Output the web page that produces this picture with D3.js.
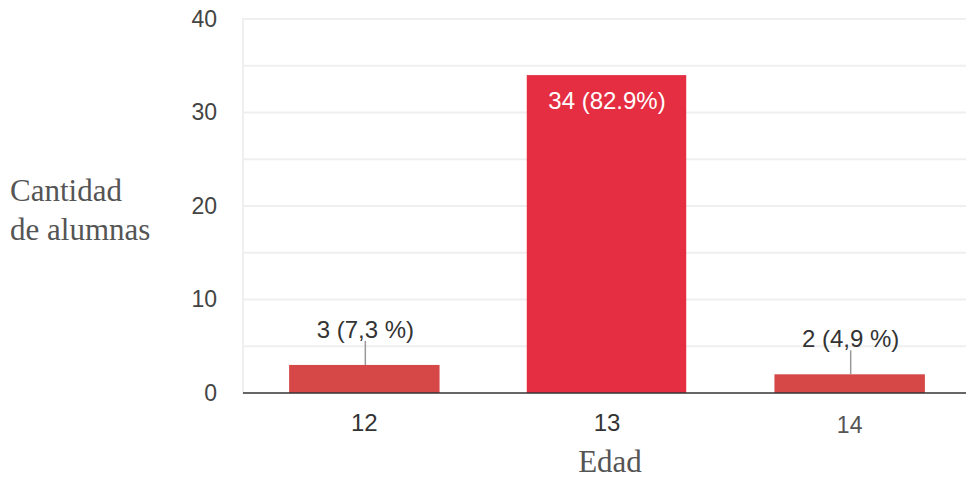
<!DOCTYPE html>
<html><head><meta charset="utf-8">
<script src="https://cdn.jsdelivr.net/npm/d3@7"></script>
<style>html,body{margin:0;padding:0;background:#fff;}</style>
</head><body>
<svg id="c" width="966" height="479"></svg>
<script>
const categories = ["12", "13", "14"];
const counts = [3, 34, 2];
const labels = ["3 (7,3 %)", "34 (82.9%)", "2 (4,9 %)"];
const yTicks = [0, 10, 20, 30, 40];
const yMinor = [5, 15, 25, 35];
const barColors = ["#d64848", "#e52e42", "#d64848"];

(function () {
const svg = d3.select("#c");
const mLeft = 243, mRight = 971, mTop = 19, mBottom = 393;
const sans = "Arial, 'Liberation Sans', sans-serif";
const serif = "'Liberation Serif', 'Times New Roman', serif";

const x = d3.scaleBand().domain(categories).range([mLeft, mRight]).paddingInner(0.38).paddingOuter(0.19);
const y = d3.scaleLinear().domain([0, 40]).range([mBottom, mTop]);

// gridlines
svg.append("g").selectAll("line").data(yTicks.concat(yMinor).filter(d => d > 0)).join("line")
  .attr("x1", mLeft).attr("x2", 966).attr("y1", d => y(d)).attr("y2", d => y(d))
  .attr("stroke", "#efefef").attr("stroke-width", 2);
svg.append("line").attr("x1", mLeft).attr("x2", mLeft).attr("y1", mTop - 1).attr("y2", mBottom)
  .attr("stroke", "#efefef").attr("stroke-width", 2);

// y axis
const yAxis = d3.axisLeft(y).tickValues(yTicks).tickSize(0).tickPadding(26);
const gy = svg.append("g").attr("transform", `translate(${mLeft},0)`).call(yAxis);
gy.select(".domain").remove();
gy.selectAll("text").attr("font-family", sans).attr("font-size", 23).attr("fill", "#444");

// bars
const data = categories.map((c, i) => ({c, v: counts[i], l: labels[i], col: barColors[i], i}));
svg.append("g").selectAll("rect").data(data).join("rect")
  .attr("x", d => d.i === 1 ? x(d.c) - 5 : x(d.c))
  .attr("width", d => d.i === 1 ? x.bandwidth() + 9 : x.bandwidth())
  .attr("y", d => y(d.v)).attr("height", d => mBottom - y(d.v))
  .attr("fill", d => d.col);

// baseline
svg.append("line").attr("x1", mLeft).attr("x2", 966).attr("y1", mBottom).attr("y2", mBottom)
  .attr("stroke", "#333").attr("stroke-width", 1.5);

// x axis labels
const xAxis = d3.axisBottom(x).tickSize(0);
const gx = svg.append("g").attr("transform", `translate(0,${mBottom})`).call(xAxis);
gx.select(".domain").remove();
gx.selectAll("text").attr("font-family", sans)
  .attr("font-size", (d, i) => i === 2 ? 23 : 24).attr("fill", (d, i) => i === 2 ? "#555" : "#333")
  .attr("y", (d, i) => i === 2 ? 40 : 38).attr("dy", 0);

// outside labels with leader lines
const outside = data.filter(d => d.i !== 1);
svg.append("g").selectAll("line").data(outside).join("line")
  .attr("x1", d => x(d.c) + x.bandwidth() / 2 + 1).attr("x2", d => x(d.c) + x.bandwidth() / 2 + 1)
  .attr("y1", d => y(d.v) - 24).attr("y2", d => y(d.v))
  .attr("stroke", "#999").attr("stroke-width", 1.5);
svg.append("g").selectAll("text").data(outside).join("text")
  .attr("x", d => x(d.c) + x.bandwidth() / 2 + 1).attr("y", d => y(d.v) - 27)
  .attr("text-anchor", "middle").attr("font-family", sans)
  .attr("font-size", 24).attr("fill", "#333").text(d => d.l);

// inside label
svg.append("g").selectAll("text").data(data.filter(d => d.i === 1)).join("text")
  .attr("x", d => x(d.c) + x.bandwidth() / 2).attr("y", d => y(d.v) + 34)
  .attr("text-anchor", "middle").attr("font-family", sans)
  .attr("font-size", 24).attr("fill", "#fff").text(d => d.l);

// axis titles
const yt = svg.append("text").attr("font-family", serif).attr("font-size", 31).attr("fill", "#555");
yt.append("tspan").attr("x", 10).attr("y", 201).text("Cantidad");
yt.append("tspan").attr("x", 10).attr("y", 240).text("de alumnas");
svg.append("text").attr("x", 610).attr("y", 472).attr("text-anchor", "middle")
  .attr("font-family", serif).attr("font-size", 31).attr("fill", "#555").text("Edad");
})();
</script>
</body></html>
